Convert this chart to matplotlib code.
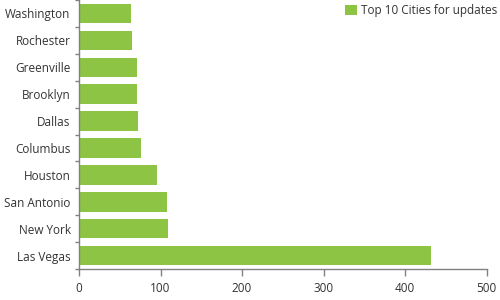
import numpy as np
import matplotlib.pyplot as plt

# data, bottom to top
cities = ['Las Vegas', 'New York', 'San Antonio', 'Houston', 'Columbus',
          'Dallas', 'Brooklyn', 'Greenville', 'Rochester', 'Washington']
updates = [432, 109, 108, 96, 76, 72, 71, 71, 65, 64]
series_name = 'Top 10 Cities for updates'

bar_color = '#8DC443'
axis_color = '#808080'
text_color = '#333333'

plt.rcParams['font.family'] = ['Open Sans', 'DejaVu Sans']

fig = plt.figure(figsize=(5, 3), dpi=100)
ax = fig.add_axes([0.158, 0.103, 0.815, 0.897])

y = np.arange(len(cities))
ax.barh(y, updates, height=0.72, color=bar_color, label=series_name)

ax.set_xlim(0, 500)
ax.set_ylim(-0.5, len(cities) - 0.5)
ax.set_xticks([0, 100, 200, 300, 400, 500])
ax.set_yticks(y)
ax.set_yticklabels(cities)
ax.set_yticks(np.arange(len(cities) + 1) - 0.5, minor=True)

ax.tick_params(axis='y', which='major', length=0, pad=6, labelsize=8.5, labelcolor=text_color)
ax.tick_params(axis='y', which='minor', length=3, color=axis_color, width=1)
ax.tick_params(axis='x', length=5, color=axis_color, width=1, labelsize=8.5,
               labelcolor=text_color, pad=4)

for s in ['top', 'right']:
    ax.spines[s].set_visible(False)
for s in ['left', 'bottom']:
    ax.spines[s].set_color(axis_color)
    ax.spines[s].set_linewidth(1)

ax.legend(loc='upper right', bbox_to_anchor=(1.052, 1.025), frameon=False,
          fontsize=8.5, handlelength=1.0, handleheight=1.0, handletextpad=0.3,
          labelcolor=text_color)

fig.savefig('out.png', dpi=100)
